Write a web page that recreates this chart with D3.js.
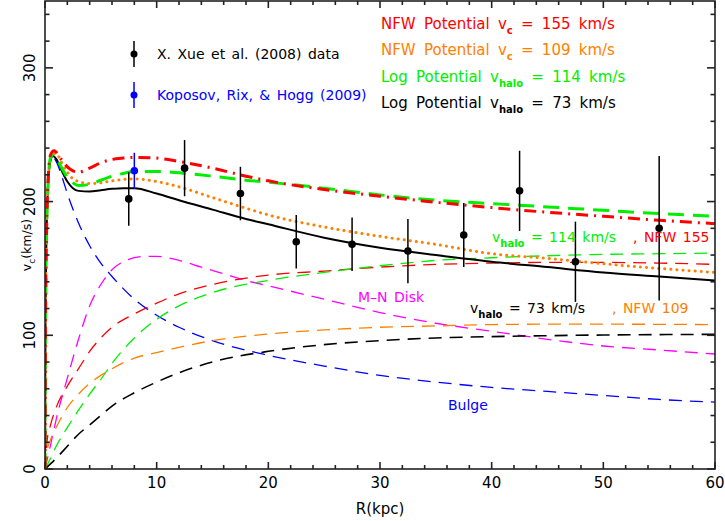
<!DOCTYPE html>
<html>
<head>
<meta charset="utf-8">
<script src="https://cdn.jsdelivr.net/npm/d3@7"></script>
<style>
  body { margin: 0; background: #fff; }
  svg { display: block; }
  text { font-family: "DejaVu Sans", "Liberation Sans", sans-serif; }
</style>
</head>
<body>
<svg id="chart"></svg>
<script>
// ---- data (R in kpc, v in km/s) ----
const bulgeR = [0, 0.05, 0.15, 0.3, 0.5, 0.7, 1, 1.5, 2, 3, 4, 5, 6, 8, 10, 12, 15, 20, 25, 30, 35, 40, 45, 50, 55, 60];
const bulgeV = [0, 117, 179, 215, 231, 233, 230, 219, 206, 184, 167, 154, 144, 127, 115, 106, 96, 85, 77, 70, 65, 61, 58, 55, 52, 50];

const diskR = [0, 0.5, 1, 2, 3, 4, 5, 6, 7, 8, 9, 10, 12, 14, 16, 18, 20, 25, 30, 35, 40, 45, 50, 55, 60];
const diskV = [0, 18, 37, 68, 97, 122, 138, 149, 155, 158, 159, 159, 156, 151, 146, 141, 137, 127, 117, 109, 103, 97, 92, 89, 86];

const nfw155R = [0, 0.2, 0.5, 1, 2, 3, 4, 5, 6, 8, 10, 12, 15, 20, 25, 30, 35, 40, 45, 50, 55, 60];
const nfw155V = [0, 22, 33, 46, 62, 75, 88, 98, 106, 116, 124, 131, 138, 145, 148, 151, 153, 154, 154.5, 154.5, 154, 153];

const nfw109R = [0, 0.2, 0.5, 1, 2, 3, 4, 5, 6, 8, 10, 12, 15, 20, 25, 30, 35, 40, 45, 50, 55, 60];
const nfw109V = [0, 14, 22, 31, 46, 56, 64, 70, 75, 83, 87, 91, 96, 101, 104, 106, 107, 108, 108.3, 108.3, 108.2, 108];

const log114R = [0, 0.5, 1, 2, 3, 4, 5, 6, 8, 10, 12, 15, 20, 25, 30, 35, 40, 45, 50, 55, 60];
const log114V = [0, 8, 17, 31, 44, 56, 67, 79, 98, 112, 122, 132, 141, 147, 152, 156, 158, 159.5, 160.5, 161, 161.5];

const log73R = [0, 1, 2, 3, 4, 5, 6, 8, 10, 12, 15, 20, 25, 30, 35, 40, 45, 50, 55, 60];
const log73V = [0, 8, 17, 26, 33, 40, 47, 57, 65, 72, 80, 88, 93, 96, 98, 99, 99.7, 100.2, 100.5, 100.7];

const totLog73R = [0, 0.05, 0.15, 0.3, 0.5, 0.7, 1, 1.5, 2, 2.5, 3, 4, 5, 6, 7, 8, 10, 12, 15, 18, 20, 25, 30, 35, 40, 45, 50, 55, 60];
const totLog73V = [0, 117, 180, 216, 231, 234, 232, 223, 215, 210, 208, 207.5, 208.5, 209.5, 210, 210, 206, 201, 194, 187, 183, 173, 165.5, 160, 155, 151, 147, 144, 141];

const totLog114R = [0, 0.05, 0.15, 0.3, 0.5, 0.75, 1, 1.5, 2, 2.5, 3, 4, 5, 6, 7, 8, 10, 12, 15, 18, 20, 25, 30, 35, 40, 45, 50, 55, 60];
const totLog114V = [0, 117, 180, 217, 233, 235, 233, 225, 218, 214, 212, 213, 216, 219, 221, 222.5, 222.5, 221.5, 219, 216, 214.5, 210, 205, 201, 198.5, 196, 193.5, 191, 189];

const totNfw155R = [0, 0.05, 0.15, 0.3, 0.5, 0.8, 1, 1.5, 2, 2.5, 3, 4, 5, 6, 7, 8, 10, 12, 15, 18, 20, 25, 30, 35, 40, 45, 50, 55, 60];
const totNfw155V = [0, 118, 182, 220, 235, 238, 237, 231, 226, 223, 222, 225, 229, 231.5, 232.5, 233, 232.5, 230, 225, 219, 215.5, 209, 204, 199.5, 195.5, 192, 189, 186, 183.5];

const totNfw109R = [0, 0.05, 0.15, 0.3, 0.5, 0.9, 1.2, 1.5, 2, 2.5, 3, 4, 5, 6, 7, 8, 10, 12, 15, 18, 20, 25, 30, 35, 40, 45, 50, 55, 60];
const totNfw109V = [0, 117, 180, 217, 233, 236, 234, 229, 222, 217, 215, 213.5, 214, 215.5, 216.5, 217, 215, 211, 203, 195, 190, 181, 174, 168, 161, 157.5, 153.5, 150, 147];

const xueR = [7.5, 12.5, 17.5, 22.5, 27.5, 32.5, 37.5, 42.5, 47.5, 55];
const xueV = [202, 225, 206, 170, 168, 163, 175, 208, 155, 180];
const xueErr = [20, 21, 20, 20, 20, 24, 24, 30, 30, 54];

const kopR = [8];
const kopV = [223];
const kopErr = [13.5];

const xTicks = [0, 10, 20, 30, 40, 50, 60];
const yTicks = [0, 100, 200, 300];

// ---- layout ----
const W = 725, H = 521;
const mLeft = 45, mRight = 715, mTop = 1, mBottom = 469;

const svg = d3.select('#chart').attr('width', W).attr('height', H);

const x = d3.scaleLinear().domain([0, 60]).range([mLeft, mRight]);
const y = d3.scaleLinear().domain([0, 350]).range([mBottom, mTop]);

svg.append('clipPath').attr('id', 'plotclip')
  .append('rect')
  .attr('x', mLeft).attr('y', mTop)
  .attr('width', mRight - mLeft).attr('height', mBottom - mTop);

const line = d3.line()
  .x(d => x(d[0]))
  .y(d => y(d[1]))
  .curve(d3.curveMonotoneX);

const zip = (a, b) => a.map((r, i) => [r, b[i]]);

// thin components first, then totals on top
const curves = [
  { pts: zip(diskR, diskV), color: '#ff00ff', w: 1.3, dash: '13,8' },
  { pts: zip(bulgeR, bulgeV), color: '#0000ff', w: 1.3, dash: '13,8' },
  { pts: zip(nfw155R, nfw155V), color: '#ff0000', w: 1.3, dash: '13,8' },
  { pts: zip(log114R, log114V), color: '#00ee00', w: 1.3, dash: '13,8' },
  { pts: zip(nfw109R, nfw109V), color: '#ff8000', w: 1.3, dash: '13,8' },
  { pts: zip(log73R, log73V), color: '#000000', w: 1.6, dash: '13,8' },
  { pts: zip(totLog73R, totLog73V), color: '#000000', w: 2, dash: null },
  { pts: zip(totNfw109R, totNfw109V), color: '#ff8000', w: 3, dash: '0.1,6', cap: 'round' },
  { pts: zip(totLog114R, totLog114V), color: '#00ee00', w: 3, dash: '16,9' },
  { pts: zip(totNfw155R, totNfw155V), color: '#ff0000', w: 3, dash: '12,6,2,6' }
];

const plot = svg.append('g').attr('clip-path', 'url(#plotclip)');

plot.selectAll('path.curve')
  .data(curves)
  .join('path')
  .attr('class', 'curve')
  .attr('d', d => line(d.pts))
  .attr('fill', 'none')
  .attr('stroke', d => d.color)
  .attr('stroke-width', d => d.w)
  .attr('stroke-dasharray', d => d.dash)
  .attr('stroke-linecap', d => d.cap || 'butt');

// data points with error bars
function drawPoints(rs, vs, es, color) {
  const g = svg.append('g');
  const data = rs.map((r, i) => ({ r: r, v: vs[i], e: es[i] }));
  g.selectAll('line')
    .data(data)
    .join('line')
    .attr('x1', d => x(d.r)).attr('x2', d => x(d.r))
    .attr('y1', d => y(d.v - d.e)).attr('y2', d => y(d.v + d.e))
    .attr('stroke', color)
    .attr('stroke-width', 1.5);
  g.selectAll('circle')
    .data(data)
    .join('circle')
    .attr('cx', d => x(d.r)).attr('cy', d => y(d.v))
    .attr('r', 3.8)
    .attr('fill', color);
}
drawPoints(xueR, xueV, xueErr, '#000');
drawPoints(kopR, kopV, kopErr, '#0000ff');

// ---- frame and ticks ----
const frame = svg.append('g').attr('stroke', '#222').attr('stroke-width', 1.6);
frame.append('rect')
  .attr('x', mLeft).attr('y', mTop)
  .attr('width', mRight - mLeft).attr('height', mBottom - mTop)
  .attr('fill', 'none');

const xMinor = d3.range(0, 61, 2);
const yMinor = d3.range(0, 351, 20);

xMinor.forEach(v => {
  const len = v % 10 === 0 ? 7 : 4;
  frame.append('line').attr('x1', x(v)).attr('x2', x(v)).attr('y1', mBottom).attr('y2', mBottom - len);
  frame.append('line').attr('x1', x(v)).attr('x2', x(v)).attr('y1', mTop).attr('y2', mTop + len);
});
yMinor.forEach(v => {
  const len = v % 100 === 0 ? 8 : 4.5;
  frame.append('line').attr('x1', mLeft).attr('x2', mLeft + len).attr('y1', y(v)).attr('y2', y(v));
  frame.append('line').attr('x1', mRight).attr('x2', mRight - len).attr('y1', y(v)).attr('y2', y(v));
});

svg.append('g').selectAll('text')
  .data(xTicks)
  .join('text')
  .attr('x', d => x(d))
  .attr('y', 488)
  .attr('text-anchor', 'middle')
  .attr('font-size', 15)
  .text(d => d);

svg.append('g').selectAll('text')
  .data(yTicks)
  .join('text')
  .attr('transform', d => `translate(35,${y(d)}) rotate(-90)`)
  .attr('text-anchor', 'middle')
  .attr('font-size', 15)
  .text(d => d);

// axis titles
svg.append('text')
  .attr('x', 380).attr('y', 514)
  .attr('text-anchor', 'middle')
  .attr('font-size', 15)
  .text('R(kpc)');

const yt = svg.append('text')
  .attr('transform', 'translate(31,245) rotate(-90)')
  .attr('text-anchor', 'middle')
  .attr('font-size', 12.5);
yt.append('tspan').text('v');
yt.append('tspan').attr('font-size', 9).attr('dy', 4).text('c');
yt.append('tspan').attr('dy', -4).text('(km/s)');

// ---- legends / labels ----
function subText(xp, yp, parts, color, size, ws) {
  const t = svg.append('text')
    .attr('x', xp).attr('y', yp)
    .attr('font-size', size || 14)
    .attr('word-spacing', ws === undefined ? 2 : ws)
    .attr('fill', color);
  let shifted = false;
  parts.forEach(p => {
    const s = t.append('tspan').text(p.t);
    if (p.sub) {
      s.attr('font-size', 10).attr('dy', 5).attr('font-weight', 'bold');
      shifted = true;
    } else if (shifted) {
      s.attr('dy', -5);
      shifted = false;
    }
  });
  return t;
}

subText(381, 29, [{ t: 'NFW Potential v' }, { t: 'c', sub: true }, { t: ' = 155 km/s' }], '#ff0000', 15, 3.5);
subText(381, 55, [{ t: 'NFW Potential v' }, { t: 'c', sub: true }, { t: ' = 109 km/s' }], '#ff8000', 15, 3.5);
subText(381, 82, [{ t: 'Log Potential v' }, { t: 'halo', sub: true }, { t: ' = 114 km/s' }], '#00ee00', 15, 3.5);
subText(381, 108, [{ t: 'Log Potential v' }, { t: 'halo', sub: true }, { t: ' = 73 km/s' }], '#000', 15, 3.5);

// data legend
const legendPts = [
  { yv: 54, color: '#000', label: 'X. Xue et al. (2008) data' },
  { yv: 95, color: '#0000ff', label: 'Koposov, Rix, & Hogg (2009)' }
];
legendPts.forEach(d => {
  svg.append('line')
    .attr('x1', 134).attr('x2', 134)
    .attr('y1', d.yv - 13).attr('y2', d.yv + 13)
    .attr('stroke', d.color).attr('stroke-width', 1.5);
  svg.append('circle').attr('cx', 134).attr('cy', d.yv).attr('r', 3.5).attr('fill', d.color);
  svg.append('text')
    .attr('x', 157).attr('y', d.yv + 5)
    .attr('font-size', 14)
    .attr('word-spacing', 2)
    .attr('fill', d.color)
    .text(d.label);
});

// in-plot annotations
subText(492, 242, [{ t: 'v' }, { t: 'halo', sub: true }, { t: ' = 114 km/s' }], '#00ee00');
subText(633, 242, [{ t: ', NFW 155' }], '#ff0000');
subText(470, 313, [{ t: 'v' }, { t: 'halo', sub: true }, { t: ' = 73 km/s' }], '#000');
subText(612, 313, [{ t: ', NFW 109' }], '#ff8000');
subText(358, 302, [{ t: 'M\u2013N Disk' }], '#ff00ff');
subText(448, 410, [{ t: 'Bulge' }], '#0000ff');
</script>
</body>
</html>
